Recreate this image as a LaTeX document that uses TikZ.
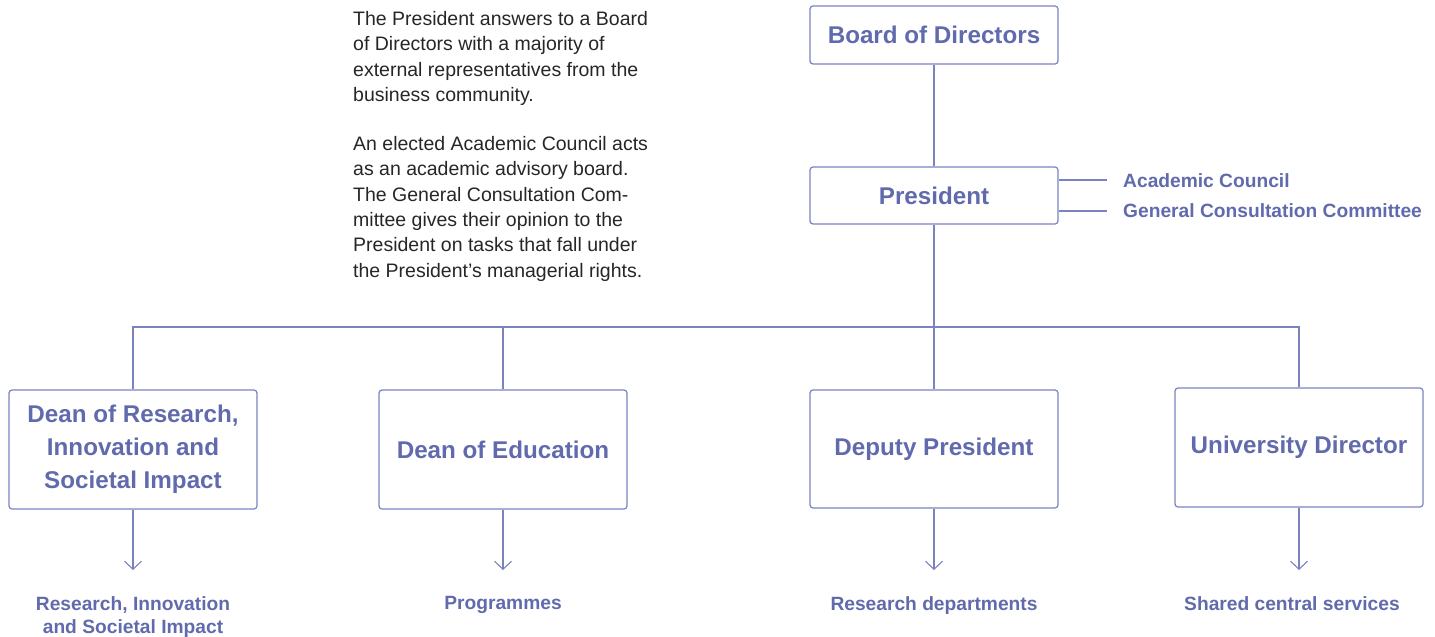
\documentclass[tikz,border=0pt]{standalone}
\usepackage{fontspec}
\setmainfont{Liberation Sans}
\usetikzlibrary{arrows.meta}
\definecolor{txt}{RGB}{96,106,172}
\definecolor{ln}{RGB}{122,130,192}
\tikzset{
  box/.style={draw=ln, line width=1.2pt, rounded corners=3pt, minimum width=248pt, text=txt, align=center, font=\fontsize{24.2}{33}\selectfont\bfseries, inner sep=0pt},
  conn/.style={draw=ln, line width=1.1pt},
  arr/.style={conn, -{Straight Barb[length=8pt,width=17pt,line width=1.1pt]}},
  lbl/.style={text=txt, font=\fontsize{19.2}{23.5}\selectfont\bfseries, align=center, inner sep=0pt},
  body/.style={text=black!85, font=\fontsize{19.5}{25.4}\selectfont, align=left, inner sep=0pt, anchor=north west}
}
\begin{document}
\begin{tikzpicture}[x=1pt,y=-1pt]
\useasboundingbox (0,0) rectangle (1435,637);
% boxes
\node[box, minimum height=58pt] (board) at (934,35) {Board of Directors};
\node[box, minimum height=57pt] (pres) at (934,195.5) {President};
\node[box, minimum height=119pt] (dres) at (133,449.5) {Dean of Research,\\Innovation and\\Societal Impact};
\node[box, minimum height=119pt] (dedu) at (503,449.5) {Dean of Education};
\node[box, minimum height=118pt] (dep) at (934,449) {Deputy President};
\node[box, minimum height=119pt] (udir) at (1299,447.5) {University Director};
% side labels
\node[lbl, anchor=west] (ac) at (1123,181) {Academic Council};
\node[lbl, anchor=west] (gcc) at (1123,211) {General Consultation Committee};
\coordinate (acl) at (1107,180);
\coordinate (gccl) at (1107,211);
\draw[conn] (pres.east |- acl) -- (acl);
\draw[conn] (pres.east |- gccl) -- (gccl);
% trunk
\draw[conn] (board.south) -- (pres.north);
\draw[conn] (pres.south) -- (dep.north);
\coordinate (busL) at (133,327);
\coordinate (busR) at (1299,327);
\draw[conn] (dres.north) -- (busL) -- (busR) -- (udir.north);
\draw[conn] (dedu.north) -- (dedu.north |- busL);
% bottom labels
\node[lbl, anchor=north] (l1) at (133,596) {Research, Innovation\\and Societal Impact};
\node[lbl, anchor=north] (l2) at (503,596) {Programmes};
\node[lbl, anchor=north] (l3) at (934,596) {Research departments};
\node[lbl, anchor=north] (l4) at (1292,596) {Shared central services};
\coordinate (a1) at (133,570);
\coordinate (a2) at (503,570);
\coordinate (a3) at (934,570);
\coordinate (a4) at (1299,570);
\draw[arr] (dres.south) -- (a1);
\draw[arr] (dedu.south) -- (a2);
\draw[arr] (dep.south) -- (a3);
\draw[arr] (udir.south) -- (a4);
% text
\node[body] (p1) at (353,11) {The President answers to a Board\\of Directors with a majority of\\external representatives from the\\business community.};
\node[body] (p2) at (353,136) {An elected Academic Council acts\\as an academic advisory board.\\The General Consultation Com-\\mittee gives their opinion to the\\President on tasks that fall under\\the President’s managerial rights.};
\end{tikzpicture}
\end{document}
